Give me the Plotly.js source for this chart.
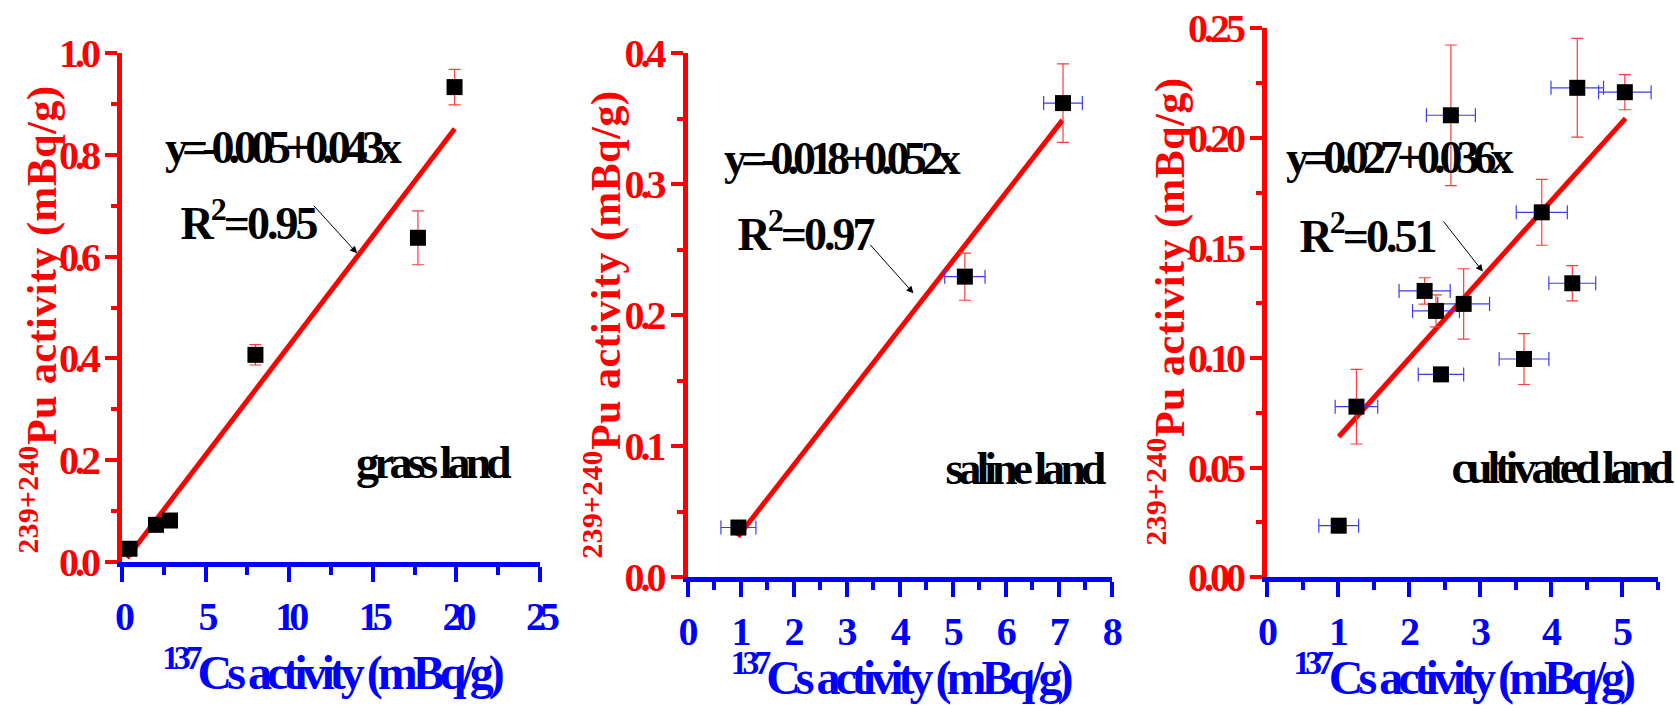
<!DOCTYPE html>
<html>
<head>
<meta charset="utf-8">
<script src="https://cdn.plot.ly/plotly-3.0.1.min.js"></script>
<style>
html,body{margin:0;padding:0;background:#fff;}
#chart{width:1677px;height:705px;}
.xtick text{letter-spacing:-6px;}
.x2tick text,.x3tick text{letter-spacing:-2px;}
.ytick text,.y2tick text,.y3tick text{letter-spacing:-4px;}
.g-xtitle text,.g-x2title text,.g-x3title text{letter-spacing:-5px;}
.annotation[data-index="0"] .annotation-text,
.annotation[data-index="1"] .annotation-text,
.annotation[data-index="2"] .annotation-text{letter-spacing:-6px;}
.annotation[data-index="3"] .annotation-text,
.annotation[data-index="4"] .annotation-text,
.annotation[data-index="5"] .annotation-text{letter-spacing:-3px;}
.annotation[data-index="6"] .annotation-text,
.annotation[data-index="7"] .annotation-text,
.annotation[data-index="8"] .annotation-text{letter-spacing:-5px;}
.annotation[data-index="12"] .annotation-text,
.annotation[data-index="13"] .annotation-text,
.annotation[data-index="14"] .annotation-text{letter-spacing:0.5px;}
</style>
</head>
<body>
<div id="chart"></div>
<script>
// ---------- data ----------
const grassCs     = [0.45, 2.03, 2.87, 7.98, 17.70, 19.89];
const grassCsErr  = [0.30, 0.40, 0.35, 0.25, 0.40, 0.40];
const grassPu     = [0.026, 0.073, 0.0815, 0.407, 0.637, 0.933];
const grassPuErr  = [0.006, 0.006, 0.006, 0.020, 0.053, 0.035];
const grassFitCs  = [0.30, 19.90];
const grassFitPu  = [0.008, 0.851];

const salineCs    = [0.96, 5.23, 7.08];
const salineCsErr = [0.33, 0.38, 0.365];
const salinePu    = [0.038, 0.2295, 0.362];
const salinePuErr = [0.002, 0.018, 0.030];
const salineFitCs = [0.95, 7.07];
const salineFitPu = [0.031, 0.349];

const cultCs      = [2.59, 4.37, 5.04, 3.87, 4.30, 2.22, 2.38, 2.77, 3.62, 2.45, 1.26, 1.01];
const cultCsErr   = [0.345, 0.37, 0.37, 0.36, 0.33, 0.36, 0.33, 0.365, 0.35, 0.32, 0.30, 0.28];
const cultPu      = [0.2104, 0.2229, 0.2209, 0.1662, 0.1339, 0.1304, 0.1213, 0.1245, 0.0994, 0.0924, 0.0777, 0.0235];
const cultPuErr   = [0.032, 0.0225, 0.008, 0.015, 0.008, 0.006, 0.0073, 0.016, 0.0116, 0.003, 0.017, 0.002];
const cultFitCs   = [1.01, 5.05];
const cultFitPu   = [0.064, 0.209];

const panelNames  = ['grass land', 'saline land', 'cultivated land'];
const equations   = ['y=-0.005+0.043x', 'y=-0.018+0.052x', 'y=0.027+0.036x'];
const r2Values    = ['0.95', '0.97', '0.51'];
const xTitleText  = '<sup>137</sup>Cs activity (mBq/g)';
const yTitleText  = '<sup>239+240</sup>Pu activity (mBq/g)';

// ---------- styling ----------
const F = 'Liberation Serif';
const RED = '#ff0000', BLUE = '#0000ff';
const W = 1677, H = 705;
const px = (a, b) => [a / W, b / W];
const py = (top, bottom) => [1 - bottom / H, 1 - top / H];

function pts(x, ex, y, ey, xa, ya) {
  return {
    x: x, y: y, xaxis: xa, yaxis: ya, type: 'scatter', mode: 'markers', cliponaxis: false,
    marker: {symbol: 'square', size: 16, color: '#000000', line: {width: 0}},
    error_x: {type: 'data', array: ex, visible: true, color: '#3b3bff', thickness: 1.2, width: 7},
    error_y: {type: 'data', array: ey, visible: true, color: '#ff3b3b', thickness: 1.2, width: 6},
    hoverinfo: 'x+y'
  };
}
function fit(x, y, xa, ya) {
  return {x: x, y: y, xaxis: xa, yaxis: ya, type: 'scatter', mode: 'lines', cliponaxis: false,
    line: {color: RED, width: 5}, hoverinfo: 'skip'};
}

function xax(domain, range, dtick, minorDtick, anchor) {
  return {
    domain: domain, range: range, anchor: anchor, tick0: 0, dtick: dtick,
    showline: true, linecolor: BLUE, linewidth: 5, mirror: false,
    ticks: 'outside', ticklen: 15, tickwidth: 4, tickcolor: BLUE,
    minor: {ticks: 'outside', ticklen: 8, tickwidth: 4, tickcolor: BLUE, tick0: 0, dtick: minorDtick, showgrid: false},
    showgrid: false, zeroline: false, fixedrange: true,
    tickfont: {family: F, size: 40, color: BLUE, weight: 'bold'},
    title: {text: xTitleText, standoff: 4, font: {family: F, size: 48, color: BLUE, weight: 'bold'}}
  };
}
function yax(domain, range, dtick, minorDtick, fmt, anchor) {
  return {
    domain: domain, range: range, anchor: anchor, tick0: 0, dtick: dtick, tickformat: fmt,
    showline: true, linecolor: RED, linewidth: 5, mirror: false,
    ticks: 'outside', ticklen: 12, tickwidth: 4, tickcolor: RED,
    minor: {ticks: 'outside', ticklen: 6, tickwidth: 4, tickcolor: RED, tick0: 0, dtick: minorDtick, showgrid: false},
    showgrid: false, zeroline: false, fixedrange: true,
    tickfont: {family: F, size: 40, color: RED, weight: 'bold'}
  };
}

const data = [
  fit(grassFitCs, grassFitPu, 'x', 'y'),
  pts(grassCs, grassCsErr, grassPu, grassPuErr, 'x', 'y'),
  fit(salineFitCs, salineFitPu, 'x2', 'y2'),
  pts(salineCs, salineCsErr, salinePu, salinePuErr, 'x2', 'y2'),
  fit(cultFitCs, cultFitPu, 'x3', 'y3'),
  pts(cultCs, cultCsErr, cultPu, cultPuErr, 'x3', 'y3')
];

const txtFont = {family: F, size: 46, color: '#000000', weight: 'bold'};
function label(text, x, y, xr, yr) {
  return {text: text, x: x, y: y, xref: xr, yref: yr, showarrow: false,
    xanchor: 'center', yanchor: 'middle', font: txtFont};
}
function arrow(x, y, ax, ay, xr, yr) {
  return {text: '', x: x, y: y, ax: ax, ay: ay, xref: xr, yref: yr, axref: xr, ayref: yr,
    showarrow: true, arrowhead: 2, arrowsize: 1.4, arrowwidth: 1, arrowcolor: '#000000', standoff: 0, startstandoff: 0};
}
function yTitle(xPix, yPix) {
  return {text: yTitleText, x: xPix / W, y: 1 - yPix / H, xref: 'paper', yref: 'paper',
    showarrow: false, textangle: -90, xanchor: 'center', yanchor: 'middle',
    font: {family: F, size: 42, color: RED, weight: 'bold'}};
}

const annotations = [
  label(equations[0], 9.45, 0.815, 'x', 'y'),
  label(equations[1], 2.87, 0.320, 'x2', 'y2'),
  label(equations[2], 1.82, 0.191, 'x3', 'y3'),
  label('R<sup>2</sup>=' + r2Values[0], 7.54, 0.672, 'x', 'y'),
  label('R<sup>2</sup>=' + r2Values[1], 2.22, 0.264, 'x2', 'y2'),
  label('R<sup>2</sup>=' + r2Values[2], 1.41, 0.157, 'x3', 'y3'),
  label(panelNames[0], 18.54, 0.195, 'x', 'y'),
  label(panelNames[1], 6.33, 0.083, 'x2', 'y2'),
  label(panelNames[2], 4.13, 0.050, 'x3', 'y3'),
  arrow(14.06, 0.6065, 11.39, 0.7028, 'x', 'y'),
  arrow(4.26, 0.2168, 3.42, 0.255, 'x2', 'y2'),
  arrow(3.04, 0.1392, 2.47, 0.1627, 'x3', 'y3'),
  yTitle(39, 320),
  yTitle(603, 325),
  yTitle(1167, 312)
];

const layout = {
  width: W, height: H,
  margin: {l: 0, r: 0, t: 0, b: 0},
  paper_bgcolor: '#ffffff', plot_bgcolor: 'rgba(0,0,0,0)',
  showlegend: false,
  xaxis:  xax(px(122, 540),    [0, 25],  5, 2.5, 'y'),
  yaxis:  yax(py(53, 562),     [0, 1.0], 0.2, 0.1, '.1f', 'x'),
  xaxis2: xax(px(687.5, 1111.8), [0, 8], 1, 0.5, 'y2'),
  yaxis2: yax(py(53.3, 577.3), [0, 0.4], 0.1, 0.05, '.1f', 'x2'),
  xaxis3: xax(px(1267, 1657.5), [0, 5.5], 1, 0.5, 'y3'),
  yaxis3: yax(py(28.3, 577.3), [0, 0.25], 0.05, 0.025, '.2f', 'x3'),
  annotations: annotations
};

Plotly.newPlot('chart', data, layout, {displayModeBar: false, staticPlot: true});
</script>
</body>
</html>
